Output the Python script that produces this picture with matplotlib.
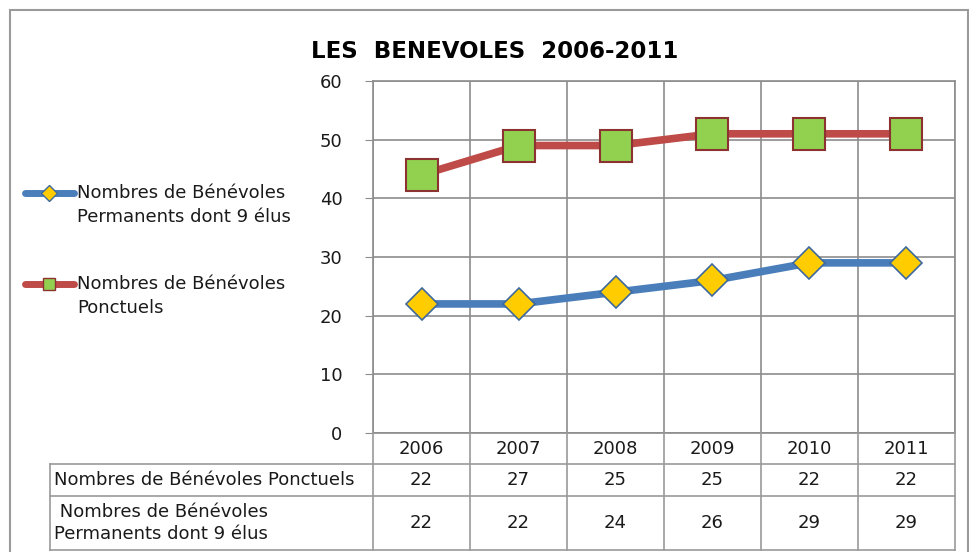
import matplotlib.pyplot as plt
import numpy as np
from matplotlib.lines import Line2D
from matplotlib.patches import Rectangle

annees = ['2006', '2007', '2008', '2009', '2010', '2011']
permanents = [22, 22, 24, 26, 29, 29]
ponctuels = [22, 27, 25, 25, 22, 22]
lab_perm = "Nombres de Bénévoles\nPermanents dont 9 élus"
lab_ponct = "Nombres de Bénévoles\nPonctuels"
row_ponct = "Nombres de Bénévoles Ponctuels"
row_perm = " Nombres de Bénévoles\nPermanents dont 9 élus"

plt.rcParams['font.family'] = ['DejaVu Sans']
plt.rcParams['text.color'] = '#1a1a1a'

W, H = 970, 552
fig = plt.figure(figsize=(W / 100, H / 100), dpi=100)


def fx(p):
    return p / W


def fy(p):
    return 1 - p / H


# cadre du graphique
fig.add_artist(Rectangle((fx(10), fy(560)), fx(958), 550 / H, transform=fig.transFigure,
                         fill=False, edgecolor='#9a9a9a', lw=1.5))

L, R, T, B = 373, 955, 81, 433
ax = fig.add_axes([fx(L), fy(B), fx(R - L), (B - T) / H])

x = np.arange(len(annees))
cumul = np.array(permanents) + np.array(ponctuels)  # courbe empilée

bleu, rouge = '#4A7EBB', '#BE4B48'
ax.plot(x, permanents, color=bleu, lw=5.5, marker='D', ms=16, mfc='#FFCC00',
        mec='#3C6A9E', mew=1.2, zorder=3, solid_capstyle='round')
ax.plot(x, cumul, color=rouge, lw=5.5, marker='s', ms=22.5, mfc='#92D050',
        mec='#8C3230', mew=1.5, zorder=3, solid_capstyle='round')

ax.set_xlim(-0.5, len(annees) - 0.5)
ax.set_ylim(0, 60)
ax.set_yticks(range(0, 61, 10))
ax.set_xticks([])
ax.set_xticks(np.arange(-0.5, len(annees)), minor=True)
ax.grid(axis='y', color='#8c8c8c', lw=1.2)
ax.grid(axis='x', which='minor', color='#8c8c8c', lw=1.2)
ax.tick_params(axis='y', length=6, color='#8c8c8c', pad=16, labelsize=13,
               labelcolor='#1a1a1a')
ax.tick_params(axis='x', which='minor', length=0)
for s in ax.spines.values():
    s.set_color('#8c8c8c')
    s.set_linewidth(1.2)

fig.text(fx(495), fy(52), "LES  BENEVOLES  2006-2011", ha='center', va='center',
         fontsize=16.5, fontweight='bold', color='black')

# légende
for yl, col, mk, mfc, mec, lab in [(193, bleu, 'D', '#FFCC00', '#3C6A9E', lab_perm),
                                   (284, rouge, 's', '#92D050', '#8C3230', lab_ponct)]:
    fig.add_artist(Line2D([fx(25), fx(74)], [fy(yl), fy(yl)], transform=fig.transFigure,
                          color=col, lw=5, solid_capstyle='round'))
    fig.add_artist(Line2D([fx(49)], [fy(yl)], transform=fig.transFigure, marker=mk,
                          ms=8.5, mfc=mfc, mec=mec, mew=1))
    fig.text(fx(77), fy(yl - 9), lab, ha='left', va='top', fontsize=13, linespacing=1.42)

# tableau de données
grey = '#9a9a9a'
rows = [433, 464, 496, 550]
bounds = [L + i * (R - L) / len(annees) for i in range(len(annees) + 1)]
for yr in rows[1:]:
    fig.add_artist(Line2D([fx(50), fx(R)], [fy(yr), fy(yr)], transform=fig.transFigure,
                          color=grey, lw=1.2))
fig.add_artist(Line2D([fx(50), fx(50)], [fy(464), fy(550)], transform=fig.transFigure,
                      color=grey, lw=1.2))
for xb in bounds:
    fig.add_artist(Line2D([fx(xb), fx(xb)], [fy(433), fy(550)], transform=fig.transFigure,
                          color=grey, lw=1.2))

fig.text(fx(54), fy(480), row_ponct, ha='left', va='center', fontsize=13)
fig.text(fx(54), fy(523), row_perm, ha='left', va='center', fontsize=13, linespacing=1.35)
for i, a in enumerate(annees):
    xc = fx((bounds[i] + bounds[i + 1]) / 2)
    fig.text(xc, fy(449), a, ha='center', va='center', fontsize=13)
    fig.text(xc, fy(480), str(ponctuels[i]), ha='center', va='center', fontsize=13)
    fig.text(xc, fy(523), str(permanents[i]), ha='center', va='center', fontsize=13)

fig.savefig('out.png', dpi=100)
